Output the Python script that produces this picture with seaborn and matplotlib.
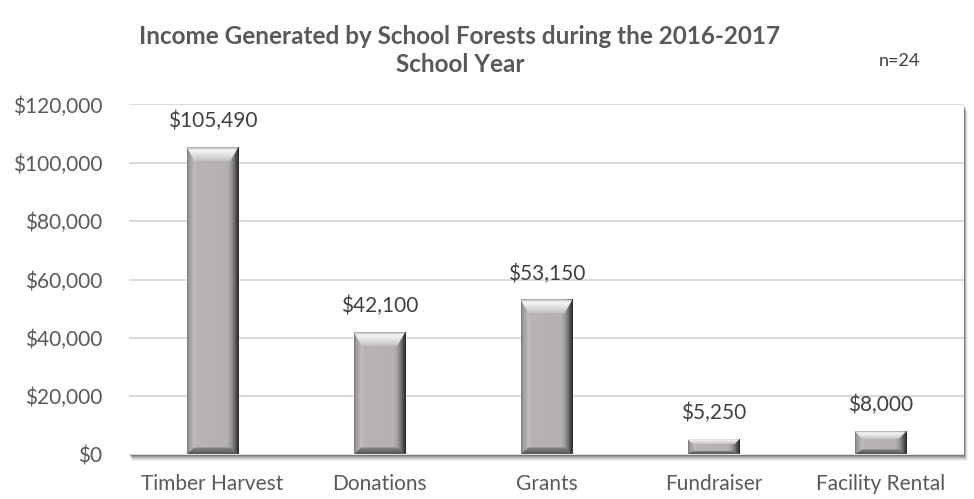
import numpy as np
import matplotlib
matplotlib.use("Agg")
import matplotlib.pyplot as plt
from matplotlib.patches import Polygon, Rectangle
from matplotlib.colors import to_rgb
from matplotlib.ticker import FuncFormatter
import seaborn as sns

# Income by source, 2016-2017 school year
categories = ["Timber Harvest", "Donations", "Grants", "Fundraiser", "Facility Rental"]
income = [105490, 42100, 53150, 5250, 8000]
y_ticks = [0, 20000, 40000, 60000, 80000, 100000, 120000]

sns.set_theme(style="white")
plt.rcParams["font.family"] = ["Lato", "DejaVu Sans"]

W, H = 974, 499
fig = plt.figure(figsize=(W / 100, H / 100), dpi=100)
fig.patch.set_facecolor("white")

ax_left, ax_right, ax_bottom, ax_top = 129, 964, 454.5, 104.5
ax = fig.add_axes([ax_left / W, (H - ax_bottom) / H,
                   (ax_right - ax_left) / W, (ax_bottom - ax_top) / H])

# soft drop shadow behind the plot area
for i, a in enumerate([0.05, 0.07, 0.09, 0.12, 0.15, 0.18]):
    off = 6 - i
    fig.patches.append(Rectangle(((ax_left + off * 0.6) / W, (H - ax_bottom - off) / H),
                                 (ax_right - ax_left) / W, (ax_bottom - ax_top) / H,
                                 transform=fig.transFigure, facecolor="black",
                                 edgecolor="none", alpha=a, zorder=-2))
ax.set_facecolor("white")

df = {"category": categories, "income": income}
sns.barplot(x="category", y="income", data=df, color="#b6b2b2", width=0.311,
            ax=ax, zorder=2)

ax.set_xlim(-0.5, 4.5)
ax.set_ylim(0, 120000)
ax.set_yticks(y_ticks)
ax.yaxis.set_major_formatter(FuncFormatter(lambda v, p: f"${v:,.0f}"))
ax.grid(axis="y", color="#d9d9d9", linewidth=1.4, zorder=0)
ax.set_axisbelow(True)
for s in ax.spines.values():
    s.set_visible(False)
ax.set_xlabel("")
ax.set_ylabel("")
ax.tick_params(axis="y", length=0, pad=19, labelsize=15, labelcolor="#595959")
ax.tick_params(axis="x", length=0, pad=14, labelsize=15, labelcolor="#595959")

# pixel -> data scale factors
px_x = ax.bbox.width / 5.0
px_y = ax.bbox.height / 120000.0


def grad(stops, n=200):
    xs = np.linspace(0, 1, n)
    pos = [s[0] for s in stops]
    cols = np.array([to_rgb(s[1]) for s in stops])
    return np.stack([np.interp(xs, pos, cols[:, k]) for k in range(3)], axis=-1)


body = grad([(0.0, "#767474"), (0.03, "#9a9797"), (0.15, "#c4c0c0"),
             (0.17, "#b8b4b4"), (0.78, "#b5b1b1"), (0.85, "#9d9999"),
             (0.92, "#6a6868"), (0.96, "#464646"), (1.0, "#262626")])[None, :, :]
top_g = grad([(0.0, "#c4c2c2"), (0.45, "#e2e0e0"), (0.75, "#f6f6f6"),
              (0.9, "#d6d4d4"), (1.0, "#9a9898")])[:, None, :]
bot_g = grad([(0.0, "#555353"), (0.5, "#727070"), (1.0, "#8a8787")])[:, None, :]

for p in list(ax.patches):
    x0, w, h = p.get_x(), p.get_width(), p.get_height()
    x1 = x0 + w
    p.set_facecolor("none")
    sw = 8 / px_x
    h_px = h * px_y
    tb = min(14, 0.33 * h_px) / px_y
    bb = min(7, 0.22 * h_px) / px_y
    sw_t = min(sw, tb * px_y / px_x) if h_px < 30 else sw
    # face with side shading
    im = ax.imshow(body, extent=[x0, x1, 0, h], aspect="auto", origin="lower",
                   interpolation="bilinear", zorder=3)
    im.set_clip_path(Rectangle((x0, 0), w, h, transform=ax.transData))
    # top bevel
    tp = Polygon([(x0, h), (x1, h), (x1 - sw_t, h - tb), (x0 + sw_t, h - tb)],
                 closed=True, transform=ax.transData)
    im2 = ax.imshow(top_g, extent=[x0, x1, h - tb, h], aspect="auto", origin="lower",
                    interpolation="bilinear", zorder=4)
    im2.set_clip_path(tp)
    # bottom bevel
    bp = Polygon([(x0, 0), (x1, 0), (x1 - sw_t, bb), (x0 + sw_t, bb)],
                 closed=True, transform=ax.transData)
    im3 = ax.imshow(bot_g, extent=[x0, x1, 0, bb], aspect="auto", origin="lower",
                    interpolation="bilinear", zorder=4)
    im3.set_clip_path(bp)
    ax.annotate(f"${h:,.0f}", (x0 + w / 2, h), xytext=(0, 26),
                textcoords="offset pixels", ha="center", va="center",
                fontsize=15, color="#404040", zorder=6)

ax.set_xlim(-0.5, 4.5)
ax.set_ylim(0, 120000)

fig.text(460 / W, 1 - 37 / H, "Income Generated by School Forests during the 2016-2017",
         ha="center", va="center", fontsize=17.5, fontweight="bold", color="#595959")
fig.text(460 / W, 1 - 65 / H, "School Year",
         ha="center", va="center", fontsize=17.5, fontweight="bold", color="#595959")
fig.text(899 / W, 1 - 61 / H, "n=24", ha="center", va="center",
         fontsize=13, color="#404040")

fig.savefig("out.png", dpi=100, facecolor="white")
